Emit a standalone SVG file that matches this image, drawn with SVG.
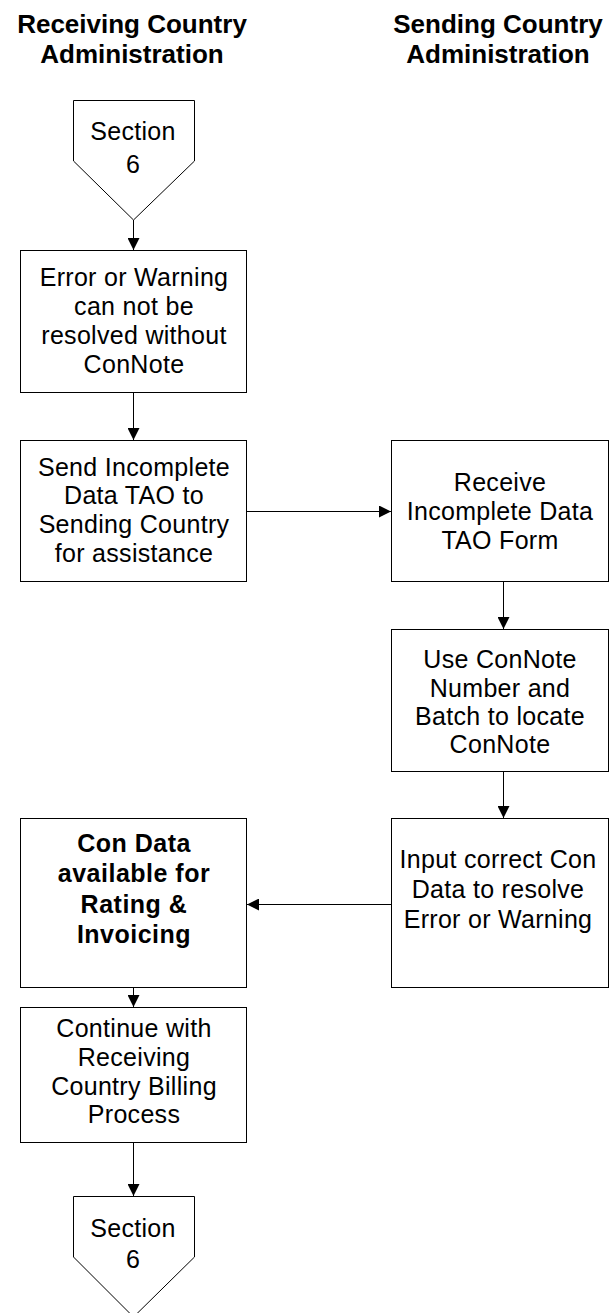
<svg xmlns="http://www.w3.org/2000/svg" width="610" height="1313" viewBox="0 0 610 1313">
  <style>
    .box { fill: #ffffff; stroke: #000000; stroke-width: 1; }
    .lane { font-family: "Liberation Sans", Arial, sans-serif; font-size: 26px; font-weight: bold; fill: #000000; text-anchor: middle; }
    .t { font-family: "Liberation Sans", Arial, sans-serif; font-size: 25px; letter-spacing: 0.3px; fill: #000000; text-anchor: middle; }
    .tb { font-family: "Liberation Sans", Arial, sans-serif; font-size: 25px; letter-spacing: 0.5px; font-weight: bold; fill: #000000; text-anchor: middle; }
    .wire { fill: none; stroke: #000000; stroke-width: 1; }
  </style>
  <defs>
    <marker id="arrow" viewBox="0 0 12 12" refX="12" refY="6" markerWidth="12" markerHeight="12" markerUnits="userSpaceOnUse" orient="auto">
      <path d="M0,0 L12,6 L0,12 Z" fill="#000000"/>
    </marker>
  </defs>
  <rect width="610" height="1313" fill="#ffffff"/>

  <!-- swimlane headings -->
  <g id="lane-receiving">
    <text class="lane" x="132" y="33">Receiving Country</text>
    <text class="lane" x="132" y="63">Administration</text>
  </g>
  <g id="lane-sending">
    <text class="lane" x="498" y="33">Sending Country</text>
    <text class="lane" x="498" y="63">Administration</text>
  </g>

  <!-- connectors -->
  <g id="connectors">
    <path class="wire" d="M133.5,220 V250" marker-end="url(#arrow)"/>
    <path class="wire" d="M133.5,393 V440" marker-end="url(#arrow)"/>
    <path class="wire" d="M247,511.5 H391" marker-end="url(#arrow)"/>
    <path class="wire" d="M503.5,582 V629" marker-end="url(#arrow)"/>
    <path class="wire" d="M503.5,772 V818" marker-end="url(#arrow)"/>
    <path class="wire" d="M391,904.5 H247" marker-end="url(#arrow)"/>
    <path class="wire" d="M133.5,988 V1007" marker-end="url(#arrow)"/>
    <path class="wire" d="M133.5,1143 V1196" marker-end="url(#arrow)"/>
  </g>

  <!-- off-page connector in -->
  <g id="section6-in">
    <polygon class="box" points="73.5,100.5 194.5,100.5 194.5,161 133.5,220 73.5,161"/>
    <text class="t" x="133" y="140">Section</text>
    <text class="t" x="133" y="173">6</text>
  </g>

  <g id="error-warning">
    <rect class="box" x="20.5" y="250.5" width="226" height="142"/>
    <text class="t" x="134" y="286">Error or Warning</text>
    <text class="t" x="134" y="315">can not be</text>
    <text class="t" x="134" y="344">resolved without</text>
    <text class="t" x="134" y="373">ConNote</text>
  </g>

  <g id="send-tao">
    <rect class="box" x="20.5" y="440.5" width="226" height="141"/>
    <text class="t" x="134" y="476">Send Incomplete</text>
    <text class="t" x="134" y="504">Data TAO to</text>
    <text class="t" x="134" y="533">Sending Country</text>
    <text class="t" x="134" y="562">for assistance</text>
  </g>

  <g id="receive-tao">
    <rect class="box" x="391.5" y="440.5" width="217" height="141"/>
    <text class="t" x="500" y="491">Receive</text>
    <text class="t" x="500" y="520">Incomplete Data</text>
    <text class="t" x="500" y="549">TAO Form</text>
  </g>

  <g id="locate-connote">
    <rect class="box" x="391.5" y="629.5" width="217" height="142"/>
    <text class="t" x="500" y="668">Use ConNote</text>
    <text class="t" x="500" y="697">Number and</text>
    <text class="t" x="500" y="725">Batch to locate</text>
    <text class="t" x="500" y="753">ConNote</text>
  </g>

  <g id="input-con-data">
    <rect class="box" x="391.5" y="818.5" width="217" height="169"/>
    <text class="t" x="498" y="868">Input correct Con</text>
    <text class="t" x="498" y="898">Data to resolve</text>
    <text class="t" x="498" y="928">Error or Warning</text>
  </g>

  <g id="con-data-available">
    <rect class="box" x="20.5" y="818.5" width="226" height="169"/>
    <text class="tb" x="134" y="852">Con Data</text>
    <text class="tb" x="134" y="882">available for</text>
    <text class="tb" x="134" y="913">Rating &amp;</text>
    <text class="tb" x="134" y="943">Invoicing</text>
  </g>

  <g id="continue-billing">
    <rect class="box" x="20.5" y="1007.5" width="226" height="135"/>
    <text class="t" x="134" y="1037">Continue with</text>
    <text class="t" x="134" y="1066">Receiving</text>
    <text class="t" x="134" y="1095">Country Billing</text>
    <text class="t" x="134" y="1123">Process</text>
  </g>

  <!-- off-page connector out -->
  <g id="section6-out">
    <polygon class="box" points="73.5,1196.5 194.5,1196.5 194.5,1257 133.5,1317 73.5,1257"/>
    <text class="t" x="133" y="1237">Section</text>
    <text class="t" x="133" y="1268">6</text>
  </g>
</svg>
